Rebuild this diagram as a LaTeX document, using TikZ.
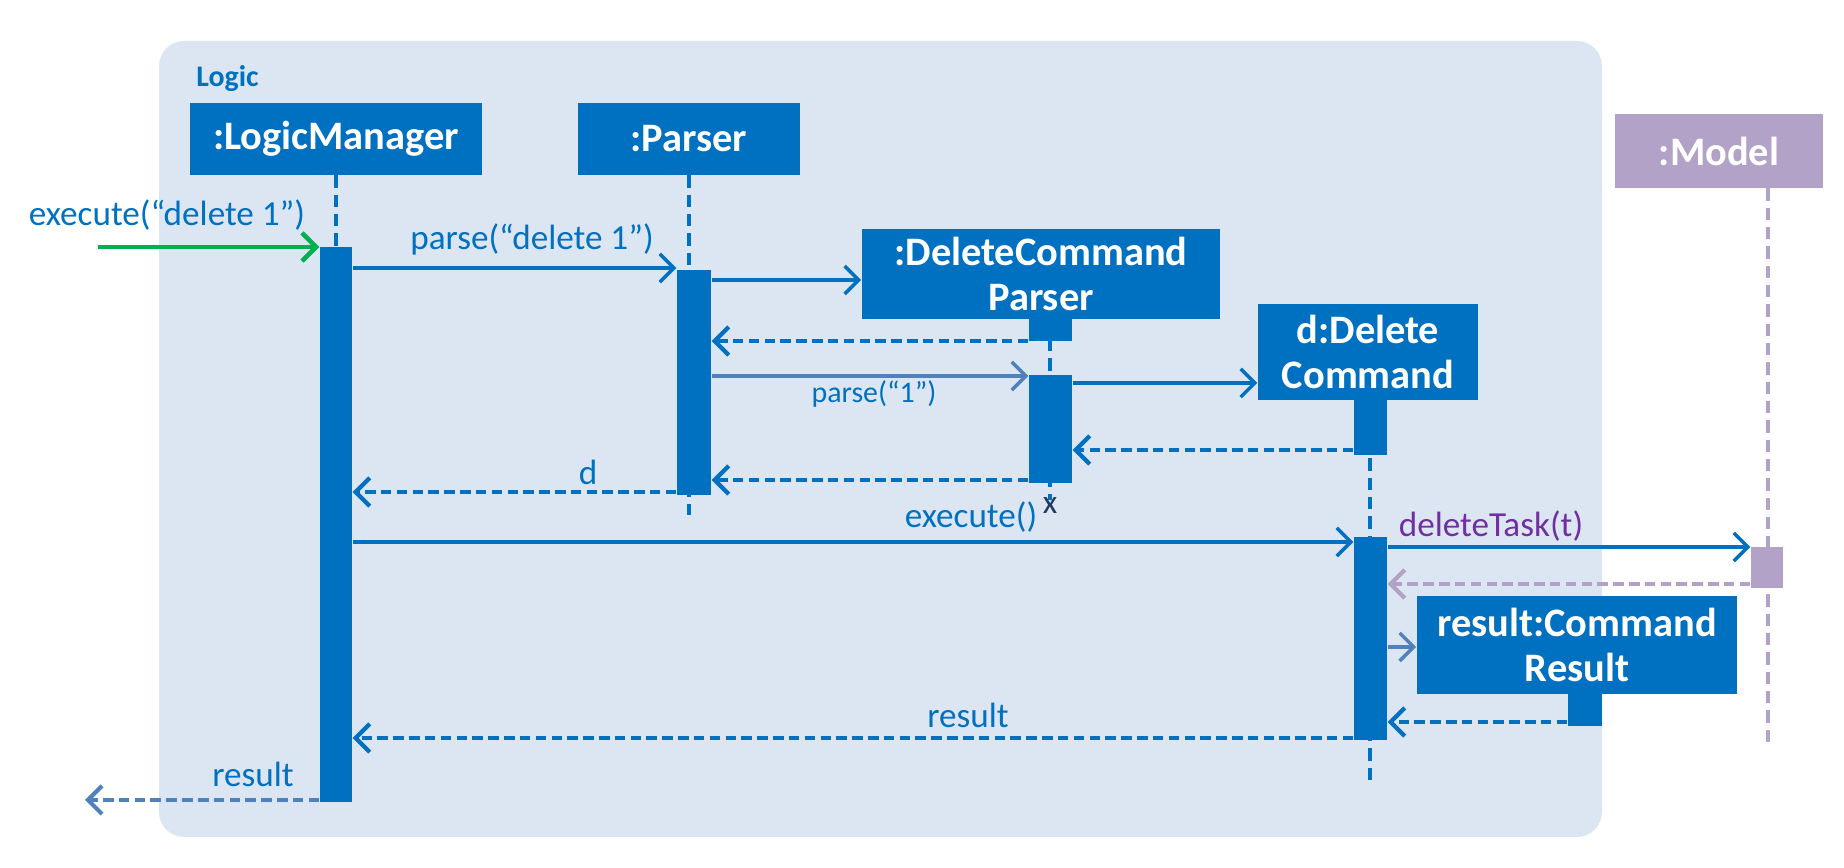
\documentclass[tikz,border=0pt]{standalone}
\usepackage{fontspec}
\setmainfont{Carlito}
\usetikzlibrary{arrows.meta,positioning,fit}
\definecolor{seqblue}{RGB}{0,112,192}
\definecolor{logicfill}{RGB}{220,230,242}
\definecolor{modelpurple}{RGB}{179,162,199}
\definecolor{callgreen}{RGB}{0,176,80}
\definecolor{taskpurple}{RGB}{112,48,160}
\definecolor{softblue}{RGB}{79,129,189}
\definecolor{xnavy}{RGB}{31,56,100}

\begin{document}
\begin{tikzpicture}[x=0.01cm, y=-0.01cm,
    obj/.style={fill=seqblue, text=white, align=center, inner sep=0pt,
      font=\fontsize{11.5}{13}\selectfont\bfseries},
    act/.style={fill=seqblue, inner sep=0pt},
    life/.style={draw=seqblue, line width=0.9pt, dash pattern=on 3.5pt off 2pt},
    msg/.style={draw=seqblue, line width=1pt, -{Straight Barb[length=4pt,width=8pt]}},
    ret/.style={msg, line width=1.2pt, dash pattern=on 3pt off 1.5pt},
    lbl/.style={text=seqblue, font=\fontsize{10}{12}\selectfont, inner sep=0pt}]
  \useasboundingbox (0,0) rectangle (1844,868);

  % frame
  \node[fill=logicfill, rounded corners=0.25cm, inner sep=0pt,
    fit={(159,41) (1602,837)}] (logic) {};
  \node[anchor=west, text=seqblue, font=\fontsize{8.5}{10}\selectfont\bfseries]
    (logiclbl) at (184,79) {Logic};

  % objects
  \node[obj, minimum width=2.92cm, minimum height=0.71cm] (lm) at (336,139) {:LogicManager};
  \node[obj, minimum width=2.21cm, minimum height=0.71cm] (parser) at (689,139) {:Parser};
  \node[obj, minimum width=3.58cm, minimum height=0.90cm] (dcp) at (1041,274) {:DeleteCommand\\Parser};
  \node[obj, minimum width=2.20cm, minimum height=0.95cm] (dc) at (1368,352) {d:Delete\\Command};
  \node[obj, minimum width=3.20cm, minimum height=0.98cm] (res) at (1577,645) {result:Command\\Result};
  \node[obj, fill=modelpurple, minimum width=2.08cm, minimum height=0.73cm] (model) at (1719,151) {:Model};

  % lifelines
  \coordinate (lmend) at (336,247);
  \coordinate (pend) at (689,515);
  \coordinate (dcpend) at (1050,500);
  \coordinate (dcend) at (1370,783);
  \coordinate (mend) at (1768,747);
  \foreach \b/\e in {lm/lmend, parser/pend, dcp/dcpend, dc/dcend}
    \draw[life] (\b.south -| \e) -- (\e);
  \draw[life, draw=modelpurple] (model.south -| mend) -- (mend);
  \node[text=xnavy, font=\fontsize{9.5}{10}\selectfont, inner sep=0pt] (xmark) at (1050,506) {x};

  % activations
  \node[act, fit={(320,247) (352,802)}] (lmact) {};
  \node[act, fit={(677,270) (711,495)}] (pact) {};
  \node[act, fit={(1029,319) (1072,341)}] (dcpstub) {};
  \node[act, fit={(1029,375) (1072,483)}] (dcpact) {};
  \node[act, fit={(1354,400) (1387,455)}] (dcstub) {};
  \node[act, fit={(1354,537) (1387,740)}] (dcact) {};
  \node[act, fit={(1568,694) (1602,726)}] (resstub) {};
  \node[act, fill=modelpurple, fit={(1751,547) (1783,588)}] (modact) {};

  % message levels
  \foreach \n/\y in {ex/247, pa/268, mka/280, ra/341, pb/376, mkb/383, rb/450,
      rc/480, rd/492, exe/542, dt/547, re/584, mkc/647, rf/722, rg/738, rh/800}
    \coordinate (\n) at (0,\y);
  \coordinate (caller) at (98,247);
  \coordinate (back) at (85,800);

  % calls
  \draw[msg, draw=callgreen, line width=1.3pt] (caller) -- (lmact.west |- ex);
  \draw[msg] (lmact.east |- pa) -- (pact.west |- pa);
  \draw[msg] (pact.east |- mka) -- (dcp.west |- mka);
  \draw[msg, draw=softblue] (pact.east |- pb) -- (dcpact.west |- pb);
  \draw[msg] (dcpact.east |- mkb) -- (dc.west |- mkb);
  \draw[msg] (lmact.east |- exe) -- (dcact.west |- exe);
  \draw[msg] (dcact.east |- dt) -- (modact.west |- dt);
  \draw[msg, draw=softblue] (dcact.east |- mkc) -- (res.west |- mkc);

  % returns
  \draw[ret] (dcpstub.west |- ra) -- (pact.east |- ra);
  \draw[ret] (dcstub.west |- rb) -- (dcpact.east |- rb);
  \draw[ret] (dcpact.west |- rc) -- (pact.east |- rc);
  \draw[ret] (pact.west |- rd) -- (lmact.east |- rd);
  \draw[ret, draw=modelpurple] (modact.west |- re) -- (dcact.east |- re);
  \draw[ret] (resstub.west |- rf) -- (dcact.east |- rf);
  \draw[ret] (dcact.west |- rg) -- (lmact.east |- rg);
  \draw[ret, draw=softblue] (lmact.west |- rh) -- (back);

  % labels
  \node[lbl] (lex) at (167,215) {execute(“delete 1”)};
  \node[lbl] (lpa) at (532,239) {parse(“delete 1”)};
  \node[lbl, font=\fontsize{8.5}{10}\selectfont] (lpb) at (874,394) {parse(“1”)};
  \node[lbl] (lrd) at (588,472) {d};
  \node[lbl] (lexe) at (971,517) {execute()};
  \node[lbl, text=taskpurple] (ldt) at (1491,526) {deleteTask(t)};
  \node[lbl] (lrg) at (968,715) {result};
  \node[lbl] (lrh) at (253,774) {result};
\end{tikzpicture}
\end{document}
